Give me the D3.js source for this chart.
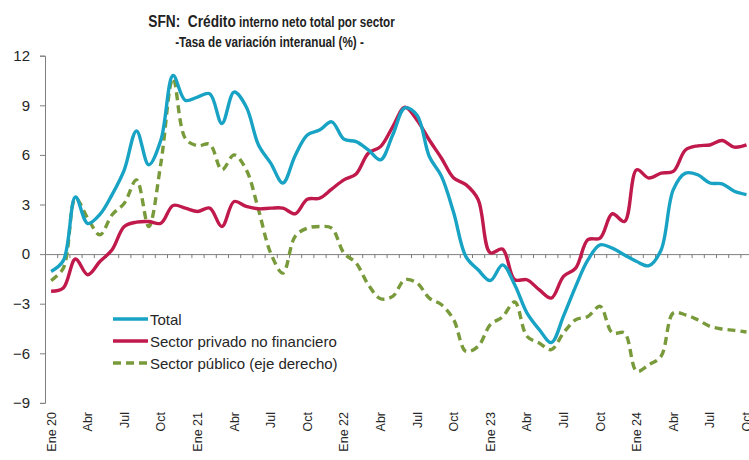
<!DOCTYPE html>
<html lang="es">
<head>
<meta charset="utf-8">
<title>SFN: Crédito interno neto total por sector</title>
<script src="https://cdn.jsdelivr.net/npm/d3@7"></script>
<style>
  body { margin:0; background:#ffffff; }
  svg { display:block; font-family:"Liberation Sans", Arial, sans-serif; }
  .axis text { fill:#262626; }
  .axis path, .axis line { stroke:#7f7f7f; }
  .title { white-space:pre; }
</style>
</head>
<body>
<div id="chart"></div>
<script>
// datos mensuales Ene 20 - Oct 24
const xLabels = ["Ene 20","Abr","Jul","Oct","Ene 21","Abr","Jul","Oct","Ene 22","Abr","Jul","Oct",
                 "Ene 23","Abr","Jul","Oct","Ene 24","Abr","Jul","Oct"];
const yTicks = [-9, -6, -3, 0, 3, 6, 9, 12];

const total = [-1.05,-0.4,3.45,1.85,2.4,3.6,5.1,7.45,5.4,6.9,10.8,9.3,9.5,9.7,7.9,9.8,8.9,6.6,5.5,4.3,
  5.95,7.2,7.5,8.0,6.95,6.8,6.3,5.7,7.2,8.85,8.4,5.9,4.7,2.5,-0.15,-0.95,-1.6,-0.65,-1.85,-3.55,
  -4.55,-5.35,-3.75,-1.95,-0.35,0.56,0.36,-0.05,-0.45,-0.7,0.25,3.9,4.9,4.8,4.3,4.25,3.8,3.6];
const privado = [-2.25,-2.05,-0.3,-1.25,-0.45,0.26,1.67,1.93,1.97,1.87,2.94,2.78,2.58,2.78,1.67,3.18,
  2.88,2.74,2.78,2.78,2.44,3.32,3.38,3.93,4.49,4.85,6.1,6.5,7.7,8.88,8.1,6.9,5.8,4.6,4.2,3.3,0.08,0.3,
  -1.55,-1.55,-2.15,-2.66,-1.35,-0.85,0.87,0.97,2.44,1.97,5.1,4.6,4.9,5.0,6.3,6.55,6.6,6.87,6.47,6.6];
const publico = [-1.6,-0.85,3.38,2.17,1.17,2.38,3.08,4.49,1.67,5.5,10.63,7.0,6.55,6.65,5.1,6.0,5.1,2.68,
  0.06,-1.15,1.07,1.57,1.67,1.57,0.06,-0.54,-1.85,-2.7,-2.56,-1.55,-1.75,-2.66,-3.06,-3.97,-5.88,-5.58,
  -4.27,-3.8,-2.9,-4.97,-5.38,-5.78,-4.77,-3.97,-3.77,-3.16,-4.77,-4.77,-7.09,-6.69,-6.18,-3.56,-3.67,
  -3.97,-4.37,-4.53,-4.61,-4.71];

const series = [
  {name:"Total", values:total, color:"#18a3c5", dash:null},
  {name:"Sector privado no financiero", values:privado, color:"#c0194b", dash:null},
  {name:"Sector público (eje derecho)", values:publico, color:"#789a3a", dash:"8,5"}
];

const width = 749, height = 460;
const svg = d3.select("#chart").append("svg").attr("width", width).attr("height", height);

const x = d3.scaleLinear().domain([0, total.length]).range([45, 752.6]);
const y = d3.scaleLinear().domain([-9, 12]).range([402.9, 55.7]);

// titulo (fuente estrecha simulada con escala horizontal)
function narrowText(cx, cy, w) {
  const g = svg.append("g");
  const t = g.append("text").attr("class", "title").attr("text-anchor", "middle")
    .attr("font-weight", "bold").attr("fill", "#222");
  return {g, t, fit() {
    const bw = t.node().getBBox().width;
    g.attr("transform", `translate(${cx},${cy}) scale(${w / bw},1)`);
  }};
}
const t1 = narrowText(271.5, 27, 247);
t1.t.append("tspan").attr("font-size", "17px").text("SFN:  Crédito");
t1.t.append("tspan").attr("font-size", "14.5px").text(" interno neto total por sector");
t1.fit();
const t2 = narrowText(269.5, 47, 189);
t2.t.attr("font-size", "14.5px").text("-Tasa de variación interanual (%) -");
t2.fit();

// eje Y
const yAxis = svg.append("g").attr("class", "axis").attr("transform", "translate(45,0)")
  .call(d3.axisLeft(y).tickValues(yTicks).tickSize(5).tickPadding(10));
yAxis.selectAll("text").attr("font-size", "15px");

// eje X en cero
const xAxis = svg.append("g").attr("class", "axis").attr("transform", `translate(0,${y(0)})`)
  .call(d3.axisBottom(x).tickValues(d3.range(total.length + 1)).tickSize(4).tickFormat(""));
xAxis.select(".domain").attr("d", `M45,0.5H${width}`);

// etiquetas del eje X (cada 3 meses)
svg.append("g").selectAll("text").data(xLabels).join("text")
  .attr("transform", (d, i) => `translate(${x(i * 3 + 0.5) + 4.5},412) rotate(-90)`)
  .attr("text-anchor", "end").attr("font-size", "12.5px").attr("fill", "#262626")
  .text(d => d);

// lineas
const line = d3.line().x((d, i) => x(i + 0.5)).y(d => y(d)).curve(d3.curveCatmullRom.alpha(0.5));
svg.append("g").selectAll("path").data(series.slice().reverse()).join("path")
  .attr("fill", "none").attr("stroke", d => d.color).attr("stroke-width", 3.4)
  .attr("stroke-dasharray", d => d.dash).attr("d", d => line(d.values));

// leyenda
const legend = svg.append("g").selectAll("g").data(series).join("g")
  .attr("transform", (d, i) => `translate(113,${319 + i * 22})`);
legend.append("line").attr("x1", 0).attr("x2", 35).attr("y1", 0).attr("y2", 0)
  .attr("stroke", d => d.color).attr("stroke-width", 3.4).attr("stroke-dasharray", d => d.dash);
legend.append("text").attr("x", 37).attr("y", 5.5).attr("font-size", "15px").attr("fill", "#262626")
  .text(d => d.name);
</script>
</body>
</html>
